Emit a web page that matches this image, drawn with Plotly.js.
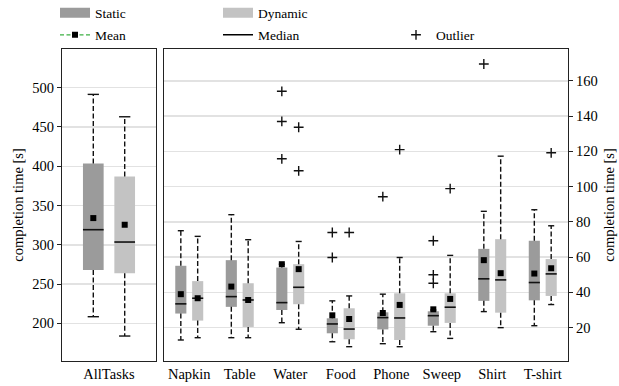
<!DOCTYPE html>
<html>
<head>
<meta charset="utf-8">
<script src="https://cdn.plot.ly/plotly-3.0.1.min.js"></script>
<style>html,body{margin:0;padding:0;background:#fff;}#chart{width:619px;height:386px;}</style>
</head>
<body>
<div id="chart"></div>
<script>
// ---------- data ----------
const allCategory = ['AllTasks'];
const tasks = ['Napkin', 'Table', 'Water', 'Food', 'Phone', 'Sweep', 'Shirt', 'T-shirt'];

// AllTasks (left panel)
const allStaticLower  = [208.4];
const allStaticQ1     = [267.8];
const allStaticMedian = [319.2];
const allStaticQ3     = [403.6];
const allStaticUpper  = [491.5];
const allStaticMean   = [334];
const allStaticOutliers = [[]];

const allDynamicLower  = [183.8];
const allDynamicQ1     = [263.6];
const allDynamicMedian = [303.5];
const allDynamicQ3     = [387];
const allDynamicUpper  = [463];
const allDynamicMean   = [325.5];
const allDynamicOutliers = [[]];

// per task (right panel)
const staticLower  = [13, 14.3, 22.8, 12, 10.9, 17.7, 29.1, 21.1];
const staticQ1     = [28, 31.8, 30, 16.8, 19, 21.1, 35.2, 35.5];
const staticMedian = [33.5, 37.6, 34.2, 22.1, 25.7, 26.8, 47.7, 45.6];
const staticQ3     = [55.1, 58.3, 54.1, 25.3, 28.7, 29.3, 64.7, 69.3];
const staticUpper  = [75, 84.1, 56, 35.2, 39, 30, 86, 86.9];
const staticMean   = [39, 43.3, 56, 27, 28.3, 30.4, 58.3, 50.7];
const staticOutliers = [[], [], [154.1, 137, 115.8], [74, 59.8], [94.3], [69.3, 50, 45.2], [169.6], []];

const dynamicLower  = [14.3, 14.3, 19.1, 9.2, 9.2, 13.9, 20, 33.1];
const dynamicQ1     = [24, 20.4, 33.3, 13.4, 13, 22.7, 28.5, 38];
const dynamicMedian = [36.7, 35.7, 42.9, 19.2, 25.5, 31.6, 47.1, 50.5];
const dynamicQ3     = [46.4, 45.2, 56, 31, 39.5, 39.5, 70.2, 58.9];
const dynamicUpper  = [71.8, 69.9, 68.9, 38, 59.8, 61, 117.3, 77.8];
const dynamicMean   = [36.7, 35.7, 53.2, 24.9, 32.9, 36.3, 50.9, 53.7];
const dynamicOutliers = [[], [], [133.7, 109], [74], [121], [98.9], [], [119.2]];

const leftTickVals  = [200, 250, 300, 350, 400, 450, 500];
const rightTickVals = [20, 40, 60, 80, 100, 120, 140, 160];

// ---------- styles ----------
const STATIC_COLOR = '#9b9b9b';
const DYNAMIC_COLOR = '#c3c3c3';
const MEAN_GREEN = '#3cb043';
const FONT = 'Liberation Serif';
const OFFSET = 0.167, BOXW = 0.22, CAPW = 0.12;

const traces = [];

function addPanel(xa, ya, cats, st, side, color) {
  const xs = cats.map((c, i) => i + side * OFFSET);
  const common = {xaxis: xa, yaxis: ya, showlegend: false, hoverinfo: 'skip'};
  traces.push(Object.assign({
    type: 'bar', x: xs, base: st.q1, y: st.q3.map((v, i) => v - st.q1[i]),
    width: BOXW, marker: {color: color, line: {width: 0}}
  }, common));
  const wx = [], wy = [], cx = [], cy = [], mx = [], my = [], ox = [], oy = [];
  xs.forEach((x, i) => {
    wx.push(x, x, null, x, x, null);
    wy.push(st.q3[i], st.upper[i], null, st.q1[i], st.lower[i], null);
    [st.upper[i], st.lower[i]].forEach(v => { cx.push(x - CAPW / 2, x + CAPW / 2, null); cy.push(v, v, null); });
    mx.push(x - BOXW / 2, x + BOXW / 2, null); my.push(st.median[i], st.median[i], null);
    st.outliers[i].forEach(v => { ox.push(x); oy.push(v); });
  });
  traces.push(Object.assign({type: 'scatter', mode: 'lines', x: wx, y: wy,
    line: {color: '#111', width: 1.4, dash: '5px,2.5px'}}, common));
  traces.push(Object.assign({type: 'scatter', mode: 'lines', x: cx, y: cy,
    line: {color: '#111', width: 1.4}}, common));
  traces.push(Object.assign({type: 'scatter', mode: 'lines', x: mx, y: my,
    line: {color: '#111', width: 1.6}}, common));
  traces.push(Object.assign({type: 'scatter', mode: 'markers', x: xs, y: st.mean,
    marker: {symbol: 'square', size: 6, color: '#000'}}, common));
  traces.push(Object.assign({type: 'scatter', mode: 'markers', x: ox, y: oy,
    marker: {symbol: 'cross-thin', size: 7, line: {color: '#111', width: 1.4}}}, common));
}

addPanel('x', 'y', allCategory, {lower: allStaticLower, q1: allStaticQ1, median: allStaticMedian, q3: allStaticQ3,
  upper: allStaticUpper, mean: allStaticMean, outliers: allStaticOutliers}, -1, STATIC_COLOR);
addPanel('x', 'y', allCategory, {lower: allDynamicLower, q1: allDynamicQ1, median: allDynamicMedian, q3: allDynamicQ3,
  upper: allDynamicUpper, mean: allDynamicMean, outliers: allDynamicOutliers}, 1, DYNAMIC_COLOR);
addPanel('x2', 'y2', tasks, {lower: staticLower, q1: staticQ1, median: staticMedian, q3: staticQ3,
  upper: staticUpper, mean: staticMean, outliers: staticOutliers}, -1, STATIC_COLOR);
addPanel('x2', 'y2', tasks, {lower: dynamicLower, q1: dynamicQ1, median: dynamicMedian, q3: dynamicQ3,
  upper: dynamicUpper, mean: dynamicMean, outliers: dynamicOutliers}, 1, DYNAMIC_COLOR);

// legend-only entries
const legendCommon = {type: 'scatter', x: [null], y: [null], xaxis: 'x', yaxis: 'y', hoverinfo: 'skip'};
traces.push(Object.assign({}, legendCommon, {name: 'Static', mode: 'lines', line: {color: STATIC_COLOR, width: 14}, legend: 'legend'}));
traces.push(Object.assign({}, legendCommon, {name: 'Mean', mode: 'lines+markers', line: {color: MEAN_GREEN, width: 1.3, dash: '4px,2.5px'},
  marker: {symbol: 'square', size: 6, color: '#000'}, legend: 'legend2'}));
traces.push(Object.assign({}, legendCommon, {name: 'Dynamic', mode: 'lines', line: {color: DYNAMIC_COLOR, width: 14}, legend: 'legend3'}));
traces.push(Object.assign({}, legendCommon, {name: 'Median', mode: 'lines', line: {color: '#000', width: 1.6}, legend: 'legend4'}));
traces.push(Object.assign({}, legendCommon, {name: 'Outlier', mode: 'markers',
  marker: {symbol: 'cross-thin', size: 7, line: {color: '#111', width: 1.4}}, legend: 'legend5'}));

const PL = 62, PR = 568, PT = 49, PB = 361;
const px = v => (v - PL) / (PR - PL);
const py = v => (PB - v) / (PB - PT);
function leg(xpix, ypix) {
  return {x: px(xpix), y: py(ypix), xanchor: 'left', yanchor: 'middle', orientation: 'v',
    bgcolor: 'rgba(0,0,0,0)', borderwidth: 0, font: {family: FONT, size: 13.5, color: '#000'}};
}

const axisFrame = {showline: true, mirror: true, linecolor: '#222', linewidth: 1, zeroline: false};
const layout = {
  width: 619, height: 386,
  margin: {l: PL, r: 619 - PR, t: PT, b: 386 - PB, pad: 0, autoexpand: false},
  paper_bgcolor: '#fff', plot_bgcolor: '#fff',
  font: {family: FONT, size: 14.5, color: '#000'},
  barmode: 'overlay',
  showlegend: true,
  legend: leg(55, 13), legend2: leg(55, 35), legend3: leg(218, 13), legend4: leg(218, 35), legend5: leg(396, 35),
  xaxis: Object.assign({}, axisFrame, {domain: [0, 94 / 506], range: [-0.5, 0.5], tickvals: [0], ticktext: allCategory,
    ticks: '', showgrid: false, fixedrange: true}),
  yaxis: Object.assign({}, axisFrame, {anchor: 'x', range: [152, 549.3], tickvals: leftTickVals, ticks: 'outside', ticklen: 4,
    tickcolor: '#222', showgrid: true, gridcolor: '#e2e2e2', gridwidth: 1.5,
    title: {text: 'completion time [s]', font: {family: FONT, size: 14.5}}}),
  xaxis2: Object.assign({}, axisFrame, {domain: [102 / 506, 1], anchor: 'y2', range: [-0.5, 7.5], tickvals: tasks.map((t, i) => i),
    ticktext: tasks, ticks: '', showgrid: false}),
  yaxis2: Object.assign({}, axisFrame, {anchor: 'x2', side: 'right', range: [1.08, 178.1], tickvals: rightTickVals, ticks: 'outside',
    ticklen: 4, tickcolor: '#222', showgrid: true, gridcolor: '#e2e2e2', gridwidth: 1.5,
    title: {text: 'completion time [s]', font: {family: FONT, size: 14.5}}})
};

Plotly.newPlot('chart', traces, layout, {displayModeBar: false, staticPlot: true});
</script>
</body>
</html>
